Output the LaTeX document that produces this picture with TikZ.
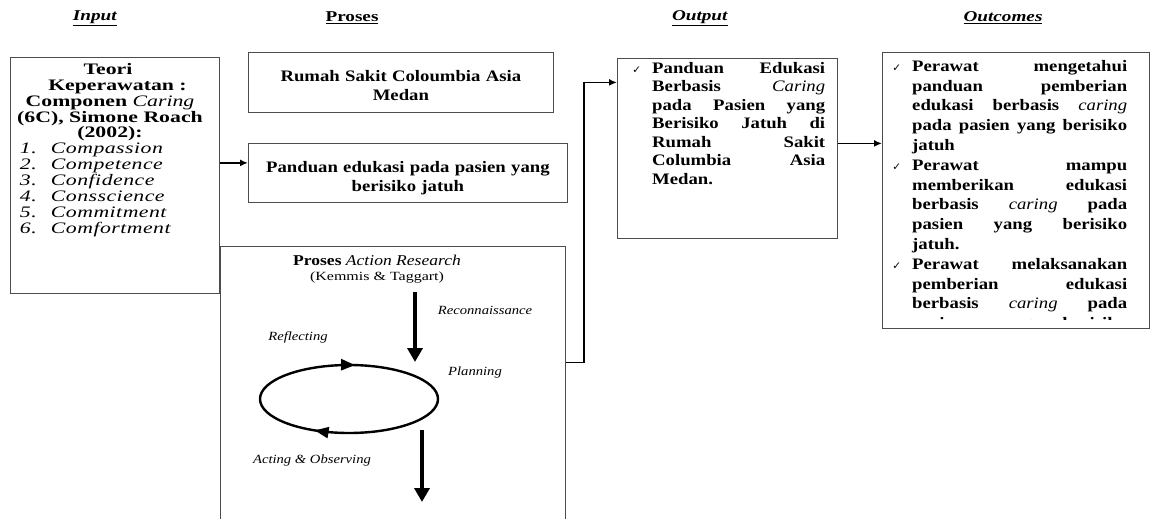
\documentclass[tikz,border=0pt]{standalone}
\usepackage{fontspec}
\setmainfont{Liberation Serif}
\newfontfamily\bodyfont{Liberation Serif}[FakeStretch=1.17]
\newfontfamily\wideserif{Liberation Serif}[FakeStretch=1.28]
\newfontfamily\inputfont{Liberation Serif}[FakeStretch=1.36]
\newfontfamily\symfont{DejaVu Sans}
\usetikzlibrary{arrows.meta,decorations.markings,positioning}
\tikzset{
  box/.style={draw=black!70, line width=0.8pt, inner sep=0pt, anchor=north west},
  conn/.style={line width=1.8pt, -{Latex[length=8pt,width=7pt]}},
  bigarrow/.style={line width=3.6pt, -{Triangle[length=14pt,width=15pt]}},
  head/.style={font=\wideserif\fontsize{15}{17}\selectfont\bfseries, inner sep=0pt},
  body/.style={font=\bodyfont\fontsize{16}{18.5}\selectfont\bfseries, inner sep=0pt, align=left, anchor=north west},
  lbl/.style={font=\bodyfont\fontsize{12.5}{14}\selectfont\itshape, inner sep=0pt},
  loop/.style={line width=2.4pt, postaction={decorate}, decoration={markings,
    mark=at position 0.235 with {\arrowreversed{Triangle[length=14pt,width=11pt]}},
    mark=at position 0.665 with {\arrowreversed{Triangle[length=14pt,width=11pt]}}}},
}
\newcommand{\tick}{\leavevmode\llap{{\symfont\fontsize{10.5}{10}\selectfont ✓}\hspace{11pt}}}
\newcommand{\nb}[1]{\textmd{\textit{#1}}}
\newcommand{\initem}[2]{\makebox[180pt][l]{\mdseries\itshape\addfontfeature{LetterSpace=3}\makebox[31pt][l]{#1}#2}}

\begin{document}
\begin{tikzpicture}[x=1pt,y=-1pt,line join=miter]
\path[use as bounding box, fill=white] (0,0) rectangle (1151,519);
% titles
\node[head] (tin) at (95,18) {\underline{\textit{Input}}};
\node[head] (tpro) at (352,18) {\underline{Proses}};
\node[head] (tout) at (700,18) {\underline{\textit{Output}}};
\node[head] (toc) at (1003,18) {\underline{\textit{Outcomes}}};
% input
\node[box, minimum width=209pt, minimum height=236pt] (input) at (10,57) {};
\node[font=\inputfont\fontsize{16}{15.9}\selectfont\bfseries, align=center, anchor=north, inner sep=0pt] (intext) at (110,63)
  {Teori\hspace*{4pt}\\ \hspace*{15pt}Keperawatan :\\ Componen \nb{Caring}\\ (6C), Simone Roach\\ (2002):\\
   \initem{1.}{Compassion}\\ \initem{2.}{Competence}\\ \initem{3.}{Confidence}\\
   \initem{4.}{Consscience}\\ \initem{5.}{Commitment}\\ \initem{6.}{Comfortment}};
% proses
\node[box, text width=305pt, minimum height=60pt, text depth=13pt, align=center, font=\bodyfont\fontsize{16}{19}\selectfont\bfseries] (rs) at (248,52)
  {Rumah Sakit Coloumbia Asia\\Medan};
\node[box, text width=319pt, minimum height=59pt, text depth=12pt, align=center, font=\bodyfont\fontsize{16}{19}\selectfont\bfseries] (panduan) at (248,143)
  {Panduan edukasi pada pasien yang\\berisiko jatuh};
\node[box, minimum width=345pt, minimum height=330pt] (action) at (220,246) {};
\node[font=\bodyfont\fontsize{15}{17}\selectfont, anchor=north, inner sep=0pt] (acttitle) at (377,255) {\textbf{Proses} \textit{Action Research}};
\node[font=\wideserif\fontsize{12.5}{14}\selectfont, below=2pt of acttitle] (actsub) {(Kemmis \& Taggart)};
\node[lbl] (recon) at (485,310) {Reconnaissance};
\node[lbl] (reflect) at (298,337) {Reflecting};
\node[lbl] (plan) at (475,372) {Planning};
\node[lbl] (acting) at (312,460) {Acting \& Observing};
\draw[loop] (349,399) ellipse [x radius=89pt, y radius=34pt];
\draw[bigarrow] (415,292) -- (415,362);
\draw[bigarrow] (422,430) -- (422,502);
% output
\node[box, minimum width=220pt, minimum height=180pt] (output) at (617,58) {};
\node[body, text width=173pt] (outtext) at (652,62)
  {\tick Panduan\hfill Edukasi\\ Berbasis\hfill \nb{Caring}\\ pada\hfill Pasien\hfill yang\\
   Berisiko\hfill Jatuh\hfill di\\ Rumah\hfill Sakit\\ Columbia\hfill Asia\\ Medan.};
% outcomes
\node[box, minimum width=267pt, minimum height=276pt] (outcomes) at (882,52) {};
\begin{scope}
\clip (882,52) rectangle (1149,319);
\node[body, font=\bodyfont\fontsize{16}{19.8}\selectfont\bfseries, text width=215pt] (octext) at (912,60)
  {\tick Perawat\hfill mengetahui\\ panduan\hfill pemberian\\ edukasi\hfill berbasis\hfill \nb{caring}\\
   pada\hfill pasien\hfill yang\hfill berisiko\\ jatuh\\
   \tick Perawat\hfill mampu\\ memberikan\hfill edukasi\\ berbasis\hfill \nb{caring}\hfill pada\\
   pasien\hfill yang\hfill berisiko\\ jatuh.\\
   \tick Perawat\hfill melaksanakan\\ pemberian\hfill edukasi\\ berbasis\hfill \nb{caring}\hfill pada\\
   pasien\hfill yang\hfill berisiko};
\end{scope}
% connectors
\coordinate (pin) at ([yshift=10pt]panduan.west);
\draw[conn] (input.east |- pin) -- (pin);
\coordinate (aout) at ([yshift=49pt]action.east);
\coordinate (oin) at ([yshift=66pt]output.west);
\draw[conn] (aout) -- ++(18,0) |- (oin);
\coordinate (oc) at ([yshift=5pt]output.east);
\draw[conn] (oc) -- (outcomes.west |- oc);
\end{tikzpicture}
\end{document}
